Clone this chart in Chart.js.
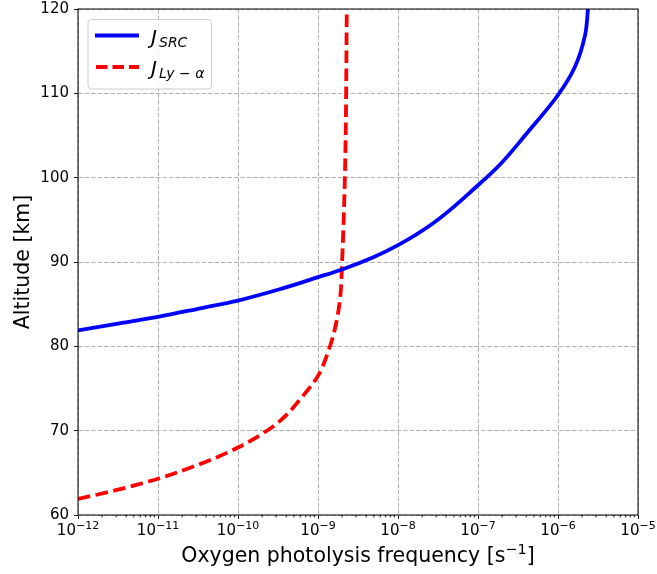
<!DOCTYPE html>
<html>
<head>
<meta charset="utf-8">
<script src="https://cdn.jsdelivr.net/npm/chart.js@4.4.1/dist/chart.umd.min.js"></script>
<style>
  html, body { margin: 0; padding: 0; background: #fff; }
  canvas { display: block; }
</style>
</head>
<body>
<canvas id="chart" width="657" height="574"></canvas>
<script>
// altitude [km] and photolysis frequency [s^-1]
const srcAlt = [81.9, 82.7, 83.5, 84.45, 85.43, 86.9, 88.2, 89.15, 90.6, 92.0, 94.6, 99.1, 101.5, 105.2, 109.8, 113.1, 117.0, 120.0];
const srcJ   = [1e-12, 3.16e-12, 1e-11, 3.16e-11, 1e-10, 3.7e-10, 1e-9, 2.04e-9, 5.0e-9, 1e-8, 2.75e-8, 1e-7, 1.86e-7, 4.03e-7, 1e-6, 1.62e-6, 2.19e-6, 2.37e-6];

const lyaAlt = [61.9, 63.0, 64.3, 66.2, 68.0, 70.5, 71.9, 73.4, 76.5, 80.0, 82.0, 85.5, 90.0, 102.0, 120.0];
const lyaJ   = [1e-12, 3.16e-12, 1e-11, 3.7e-11, 1e-10, 2.75e-10, 4.07e-10, 5.6e-10, 1e-9, 1.41e-9, 1.62e-9, 1.88e-9, 2.0e-9, 2.19e-9, 2.29e-9];

const xTickExps = [-12, -11, -10, -9, -8, -7, -6, -5];
const yTickVals = [60, 70, 80, 90, 100, 110, 120];

const FONT = 'DejaVu Sans';
const gridGray = '#b0b0b0';
const lineW = 3.8;

const toPoints = (alts, vals) => alts.map((a, i) => ({ x: vals[i], y: a }));

// text with a raised exponent, centred on cx
function supText(ctx, parts, cx, y, size, supSize, rise) {
  ctx.font = size + 'px ' + FONT;
  const w0 = ctx.measureText(parts[0]).width;
  const w2 = parts[2] ? ctx.measureText(parts[2]).width : 0;
  ctx.font = supSize + 'px ' + FONT;
  const w1 = ctx.measureText(parts[1]).width;
  let x = cx - (w0 + w1 + w2) / 2;
  ctx.font = size + 'px ' + FONT;
  ctx.fillText(parts[0], x, y);
  ctx.font = supSize + 'px ' + FONT;
  ctx.fillText(parts[1], x + w0, y - rise);
  if (parts[2]) {
    ctx.font = size + 'px ' + FONT;
    ctx.fillText(parts[2], x + w0 + w1, y);
  }
}

// frame, minor ticks, x labels and the legend box
const extras = {
  id: 'extras',
  afterDatasetsDraw(chart) {
    const { ctx, chartArea: a, scales: { x } } = chart;
    ctx.save();
    ctx.strokeStyle = '#000';
    ctx.lineWidth = 0.9;
    for (let e = xTickExps[0]; e < xTickExps[xTickExps.length - 1]; e++) {
      for (let m = 2; m <= 9; m++) {
        const px = x.getPixelForValue(m * Math.pow(10, e));
        ctx.beginPath();
        ctx.moveTo(px, a.bottom);
        ctx.lineTo(px, a.bottom + 2.4);
        ctx.stroke();
      }
    }
    ctx.lineWidth = 1;
    ctx.strokeRect(a.left, a.top, a.right - a.left, a.bottom - a.top);

    // x tick labels and axis title
    ctx.fillStyle = '#000';
    ctx.textBaseline = 'alphabetic';
    ctx.textAlign = 'left';
    xTickExps.forEach(e => {
      const px = x.getPixelForValue(Math.pow(10, e));
      supText(ctx, ['10', '\u2212' + Math.abs(e)], px, a.bottom + 19.5, 15, 11, 6);
    });
    supText(ctx, ['Oxygen photolysis frequency [s', '\u22121', ']'], (a.left + a.right) / 2, a.bottom + 47, 20.5, 14.5, 8);

    // legend
    ctx.beginPath();
    ctx.roundRect(88, 19.5, 123.5, 69.5, 3.5);
    ctx.fillStyle = 'rgba(255,255,255,0.8)';
    ctx.fill();
    ctx.strokeStyle = '#cccccc';
    ctx.stroke();

    ctx.lineWidth = lineW;
    ctx.strokeStyle = '#0000ff';
    ctx.beginPath();
    ctx.moveTo(95, 35.5);
    ctx.lineTo(139, 35.5);
    ctx.stroke();

    ctx.strokeStyle = '#ff0000';
    ctx.setLineDash([11.5, 5]);
    ctx.beginPath();
    ctx.moveTo(96, 67);
    ctx.lineTo(139, 67);
    ctx.stroke();
    ctx.setLineDash([]);

    ctx.fillStyle = '#000';
    ctx.font = 'italic 20px ' + FONT;
    ctx.fillText('J', 151, 44);
    ctx.fillText('J', 151, 75);
    ctx.font = 'italic 14px ' + FONT;
    ctx.fillText('SRC', 159, 47);
    ctx.fillText('Ly \u2212 \u03B1', 159, 78);
    ctx.restore();
  }
};

new Chart(document.getElementById('chart'), {
  type: 'line',
  data: {
    datasets: [{
      label: 'J_SRC',
      data: toPoints(srcAlt, srcJ),
      borderColor: '#0000ff',
      borderWidth: lineW,
      pointRadius: 0,
      fill: false,
      cubicInterpolationMode: 'monotone'
    }, {
      label: 'J_Ly-alpha',
      data: toPoints(lyaAlt, lyaJ),
      borderColor: '#ff0000',
      borderWidth: lineW,
      borderDash: [12.5, 5.5],
      pointRadius: 0,
      fill: false,
      cubicInterpolationMode: 'monotone'
    }]
  },
  options: {
    responsive: false,
    animation: false,
    indexAxis: 'y',
    layout: { padding: { top: 9, right: 19, left: 0, bottom: 0 } },
    plugins: { legend: { display: false }, tooltip: { enabled: false } },
    scales: {
      x: {
        type: 'logarithmic',
        position: 'bottom',
        min: 1e-12,
        max: 1e-5,
        afterBuildTicks: s => { s.ticks = xTickExps.map(e => ({ value: Math.pow(10, e) })); },
        afterFit: s => { s.height = 59; s.paddingLeft = 0; s.paddingRight = 0; },
        grid: { color: gridGray, lineWidth: 1, tickColor: '#000', tickWidth: 0.9, tickLength: 4, tickBorderDash: [] },
        border: { display: false, dash: [4.5, 2] },
        ticks: { maxRotation: 0, autoSkip: false, callback: () => '' },
        title: { display: false }
      },
      y: {
        type: 'linear',
        position: 'left',
        min: 60,
        max: 120,
        afterBuildTicks: s => { s.ticks = yTickVals.map(v => ({ value: v })); },
        afterFit: s => { s.width = 78; s.paddingTop = 0; s.paddingBottom = 0; },
        grid: { color: gridGray, lineWidth: 1, tickColor: '#000', tickWidth: 0.9, tickLength: 4, tickBorderDash: [] },
        border: { display: false, dash: [4.5, 2] },
        ticks: { color: '#000', font: { family: FONT, size: 15 }, padding: 5 },
        title: {
          display: true,
          text: 'Altitude [km]',
          color: '#000',
          font: { family: FONT, size: 20.5 },
          padding: { top: 11, bottom: 0 }
        }
      }
    }
  },
  plugins: [extras]
});
</script>
</body>
</html>
